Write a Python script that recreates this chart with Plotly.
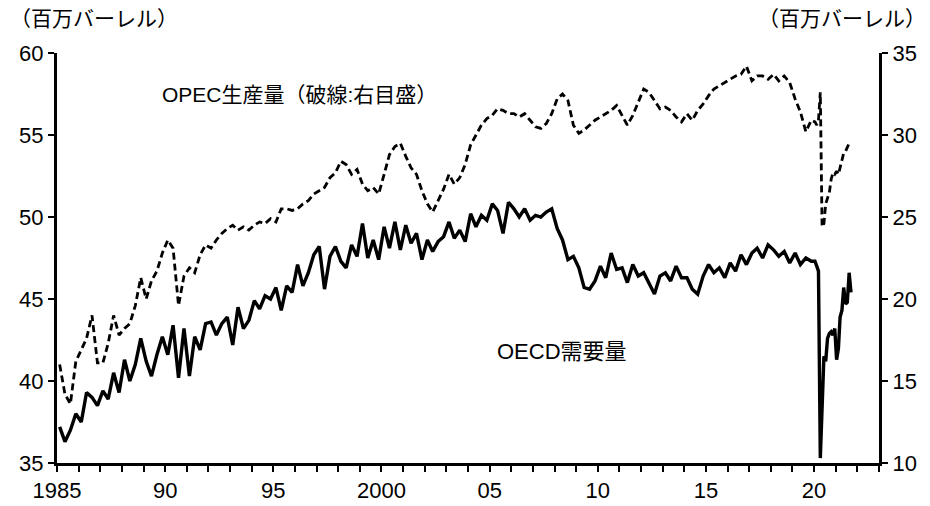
import pandas as pd
import plotly.graph_objects as go

# quarterly values 1985Q1-2019Q4, then monthly 2020-01 onward
oecd_q = [
    37.2, 36.3, 37.0, 38.0,  # 1985
    37.5, 39.3, 39.0, 38.5,  # 1986
    39.4, 38.9, 40.5, 39.3,  # 1987
    41.3, 40.0, 41.0, 42.6,  # 1988
    41.2, 40.3, 41.6, 42.7,  # 1989
    41.6, 43.4, 40.2, 43.2,  # 1990
    40.3, 42.7, 41.9, 43.5,  # 1991
    43.6, 42.8, 43.5, 43.9,  # 1992
    42.2, 44.5, 43.2, 43.7,  # 1993
    44.9, 44.4, 45.2, 45.0,  # 1994
    45.7, 44.3, 45.8, 45.4,  # 1995
    47.1, 45.8, 46.6, 47.7,  # 1996
    48.2, 45.6, 47.6, 48.2,  # 1997
    47.3, 46.9, 48.3, 47.6,  # 1998
    49.6, 47.5, 48.6, 47.4,  # 1999
    49.4, 48.1, 49.7, 48.0,  # 2000
    49.5, 48.4, 49.0, 47.4,  # 2001
    48.6, 47.9, 48.5, 48.8,  # 2002
    49.7, 48.7, 49.2, 48.5,  # 2003
    50.2, 49.4, 50.1, 49.8,  # 2004
    50.8, 50.4, 49.0, 50.9,  # 2005
    50.5, 50.0, 50.5, 49.8,  # 2006
    50.1, 50.0, 50.3, 50.5,  # 2007
    49.3, 48.6, 47.4, 47.6,  # 2008
    46.9, 45.7, 45.6, 46.1,  # 2009
    47.0, 46.3, 47.8, 46.8,  # 2010
    46.9, 46.0, 47.1, 46.4,  # 2011
    46.6, 46.0, 45.3, 46.4,  # 2012
    46.6, 46.1, 47.0, 46.3,  # 2013
    46.3, 45.6, 45.3, 46.4,  # 2014
    47.1, 46.6, 46.9, 46.3,  # 2015
    47.2, 46.7, 47.7, 47.1,  # 2016
    47.8, 48.1, 47.5, 48.3,  # 2017
    48.0, 47.6, 47.9, 47.2,  # 2018
    47.8, 47.1, 47.5, 47.3,  # 2019
]
oecd_m = [47.3, 47.0, 46.7, 35.3, 38.8, 41.5, 41.2, 42.6, 42.9, 43.0, 42.8, 43.2,
          41.3, 42.0, 43.9, 44.3, 45.7, 44.7, 44.8, 46.6, 45.4]

opec_q = [
    16.0, 14.2, 13.6, 16.2,  # 1985
    16.9, 17.6, 19.0, 16.1,  # 1986
    16.1, 17.3, 19.0, 17.8,  # 1987
    18.2, 18.5, 19.6, 21.3,  # 1988
    20.0, 21.1, 21.7, 22.8,  # 1989
    23.6, 23.1, 19.6, 21.4,  # 1990
    21.9, 21.6, 22.7, 23.3,  # 1991
    23.1, 23.6, 24.0, 24.3,  # 1992
    24.5, 24.2, 24.4, 24.2,  # 1993
    24.5, 24.7, 24.6, 24.9,  # 1994
    24.7, 25.5, 25.5, 25.4,  # 1995
    25.5, 25.8, 26.0, 26.4,  # 1996
    26.6, 26.8, 27.4, 27.7,  # 1997
    28.4, 28.2, 27.6, 27.9,  # 1998
    27.0, 26.6, 26.8, 26.4,  # 1999
    27.6, 28.8, 29.3, 29.5,  # 2000
    28.7, 28.0, 27.6, 26.6,  # 2001
    25.8, 25.3, 26.0, 26.7,  # 2002
    27.6, 27.0, 27.4, 28.2,  # 2003
    29.4, 30.0, 30.6, 31.0,  # 2004
    31.2, 31.6, 31.5, 31.3,  # 2005
    31.3, 31.1, 31.3, 30.9,  # 2006
    30.5, 30.4, 30.7, 31.3,  # 2007
    32.2, 32.5, 32.1, 30.6,  # 2008
    30.1, 30.3, 30.6, 30.9,  # 2009
    31.1, 31.3, 31.5, 31.8,  # 2010
    31.2, 30.6, 31.2, 32.0,  # 2011
    32.8, 32.6, 32.1, 31.6,  # 2012
    31.7, 31.5, 31.1, 30.8,  # 2013
    31.3, 30.9, 31.5, 31.9,  # 2014
    32.4, 32.8, 33.0, 33.2,  # 2015
    33.4, 33.6, 33.7, 34.2,  # 2016
    33.3, 33.6, 33.6, 33.4,  # 2017
    33.7, 33.3, 33.6, 33.2,  # 2018
    32.2, 31.4, 30.2, 30.9,  # 2019
]
opec_m = [30.8, 30.6, 30.9, 32.6, 24.4, 24.6, 25.8, 26.2, 26.5, 27.3, 27.7, 27.6,
          27.8, 27.6, 28.0, 28.5, 28.9, 29.0, 29.2, 29.5]

year_ticks = list(range(1985, 2024))
tick_labels = {1985: "1985", 1990: "90", 1995: "95", 2000: "2000",
               2005: "05", 2010: "10", 2015: "15", 2020: "20"}

q_dates = pd.date_range("1985-02-01", periods=len(oecd_q), freq="3MS") + pd.Timedelta(days=14)
oecd_dates = list(q_dates) + list(pd.date_range("2020-01-01", periods=len(oecd_m), freq="MS") + pd.Timedelta(days=14))
opec_dates = list(q_dates) + list(pd.date_range("2020-01-01", periods=len(opec_m), freq="MS") + pd.Timedelta(days=14))

FONT = "Liberation Sans, Arial, Noto Sans CJK JP"

axis_style = dict(ticks="outside", ticklen=6, tickwidth=2, tickcolor="black",
                  showline=True, linecolor="black", linewidth=3, showgrid=False,
                  zeroline=False, automargin=False, tickfont=dict(size=22))

fig = go.Figure()
fig.add_trace(go.Scatter(x=oecd_dates, y=oecd_q + oecd_m, mode="lines",
                         line=dict(color="black", width=3.4), showlegend=False))
fig.add_trace(go.Scatter(x=opec_dates, y=opec_q + opec_m, mode="lines", yaxis="y2",
                         line=dict(color="black", width=2.8, dash="7px,4px"), showlegend=False))

# page body has an 8px margin, so the figure is sized to fit inside the window
fig.update_layout(
    width=922, height=498,
    margin=dict(l=49, r=51, t=45, b=43),
    plot_bgcolor="white", paper_bgcolor="white",
    font=dict(family=FONT, size=21, color="black"),
    xaxis=dict(
        type="date", range=["1985-01-01", "2023-01-01"],
        tickvals=[f"{y}-01-01" for y in year_ticks],
        ticktext=[tick_labels.get(y, "") for y in year_ticks],
        **axis_style,
    ),
    yaxis=dict(range=[35, 60], tickvals=[35, 40, 45, 50, 55, 60], **axis_style),
    yaxis2=dict(range=[10, 35], tickvals=[10, 15, 20, 25, 30, 35],
                overlaying="y", side="right", **axis_style),
    annotations=[
        dict(text="（百万バーレル）", xref="paper", yref="paper", x=-0.0596, y=1.083,
             xanchor="left", yanchor="middle", showarrow=False, font=dict(size=21)),
        dict(text="（百万バーレル）", xref="paper", yref="paper", x=1.0596, y=1.085,
             xanchor="right", yanchor="middle", showarrow=False, font=dict(size=21)),
        dict(text="OPEC生産量（破線:右目盛）", xref="paper", yref="paper", x=0.125, y=0.898,
             xanchor="left", yanchor="middle", showarrow=False, font=dict(size=21)),
        dict(text="OECD需要量", xref="paper", yref="paper", x=0.533, y=0.271,
             xanchor="left", yanchor="middle", showarrow=False, font=dict(size=22)),
    ],
)

fig.write_html("out.html")
